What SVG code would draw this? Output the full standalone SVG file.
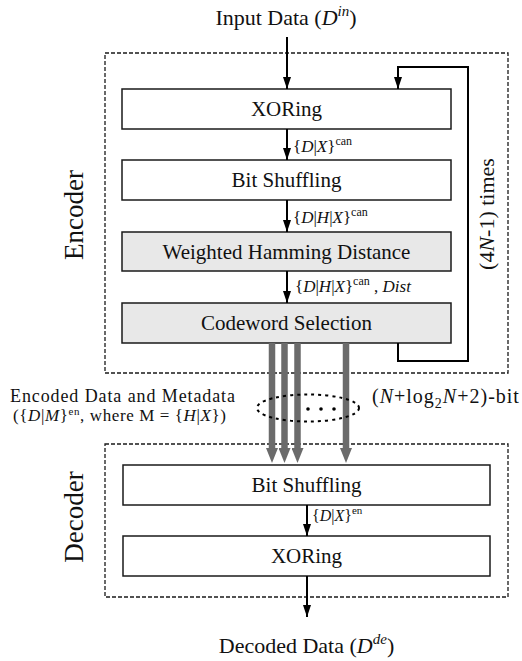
<svg xmlns="http://www.w3.org/2000/svg" width="522" height="661" viewBox="0 0 522 661" font-family="'Liberation Serif', 'Times New Roman', Times, 'DejaVu Serif', serif">
<style>
  text { font-family: 'Liberation Serif', 'Times New Roman', Times, 'DejaVu Serif', serif; fill: #111; }
  .box { fill: #ffffff; stroke: #1a1a1a; stroke-width: 1.5; }
  .gbox { fill: #e8e8e8; stroke: #1a1a1a; stroke-width: 1.5; }
  .dash { fill: none; stroke: #1a1a1a; stroke-width: 1.3; stroke-dasharray: 4 2; }
  .lbl { font-size: 21px; text-anchor: middle; }
  .side { font-size: 27px; text-anchor: middle; }
  .al { font-size: 17px; }
  .it { font-style: italic; }
  .sup { font-size: 12px; }
  .conn { fill: none; stroke: #000; stroke-width: 2; }
  .gray { fill: none; stroke: #6b6b6b; stroke-width: 6.5; }
</style>
<defs>
  <marker id="ah" viewBox="0 0 12 8" refX="12" refY="4" markerWidth="12" markerHeight="8" markerUnits="userSpaceOnUse" orient="auto">
    <path d="M0,0 L12,4 L0,8 z" fill="#000"/>
  </marker>
  <marker id="gh" viewBox="0 0 15 12" refX="0" refY="6" markerWidth="15" markerHeight="12" markerUnits="userSpaceOnUse" orient="auto">
    <path d="M0,0 L15,6 L0,12 z" fill="#6b6b6b"/>
  </marker>
</defs>

<g id="encoder">
  <rect class="dash" x="105" y="53" width="403" height="320"/>
  <text class="side" transform="translate(83,215) rotate(-90)">Encoder</text>
</g>
<g id="decoder">
  <rect class="dash" x="105" y="444" width="403" height="153"/>
  <text class="side" transform="translate(83,517) rotate(-90)">Decoder</text>
</g>

<g id="enc-xoring">
  <rect class="box" x="122" y="89" width="329" height="40"/>
  <text class="lbl" x="286.5" y="116">XORing</text>
</g>
<g id="enc-shuffle">
  <rect class="box" x="122" y="160" width="329" height="40"/>
  <text class="lbl" x="286.5" y="187">Bit Shuffling</text>
</g>
<g id="enc-whd">
  <rect class="gbox" x="122" y="232" width="329" height="39"/>
  <text class="lbl" x="286.5" y="259">Weighted Hamming Distance</text>
</g>
<g id="enc-codeword">
  <rect class="gbox" x="122" y="303" width="329" height="40"/>
  <text class="lbl" x="286.5" y="330">Codeword Selection</text>
</g>

<g id="dec-shuffle">
  <rect class="box" x="123" y="465" width="367" height="40"/>
  <text class="lbl" x="306.5" y="492">Bit Shuffling</text>
</g>
<g id="dec-xoring">
  <rect class="box" x="123" y="536" width="367" height="40"/>
  <text class="lbl" x="306.5" y="563">XORing</text>
</g>

<g id="input-label">
  <text x="286" y="25" style="font-size:22px" text-anchor="middle">Input Data (<tspan class="it">D</tspan><tspan class="it" style="font-size:15px" dy="-9">in</tspan><tspan dy="9">)</tspan></text>
</g>
<g id="output-label">
  <text x="306.5" y="653" style="font-size:22px" text-anchor="middle">Decoded Data (<tspan class="it">D</tspan><tspan class="it" style="font-size:15px" dy="-9">de</tspan><tspan dy="9">)</tspan></text>
</g>

<g id="bus-label">
  <text x="10" y="402" style="font-size:18px; letter-spacing:0.9px">Encoded Data and Metadata</text>
  <text x="13" y="421" style="font-size:17px; letter-spacing:0.6px">({<tspan class="it">D</tspan>|<tspan class="it">M</tspan>}<tspan class="sup" dy="-6" style="font-size:11px">en</tspan><tspan dy="6">, where M = {</tspan><tspan class="it">H</tspan>|<tspan class="it">X</tspan>})</text>
  <text x="372" y="403" style="font-size:20px; letter-spacing:1px">(<tspan class="it">N</tspan>+log<tspan style="font-size:14px" dy="5">2</tspan><tspan class="it" dy="-5">N</tspan>+2)-bit</text>
</g>

<g id="connectors">
  <line class="conn" x1="287" y1="37" x2="287" y2="89" marker-end="url(#ah)"/>
  <line class="conn" x1="287" y1="129" x2="287" y2="160" marker-end="url(#ah)"/>
  <line class="conn" x1="287" y1="200" x2="287" y2="232" marker-end="url(#ah)"/>
  <line class="conn" x1="287" y1="271" x2="287" y2="303" marker-end="url(#ah)"/>
  <path class="conn" d="M398,343 V361 H468 V67 H398 V89" marker-end="url(#ah)"/>
  <line class="conn" x1="307" y1="505" x2="307" y2="536" marker-end="url(#ah)"/>
  <line class="conn" x1="307" y1="576" x2="307" y2="617" marker-end="url(#ah)"/>

  <line class="gray" x1="272" y1="343" x2="272" y2="448" marker-end="url(#gh)"/>
  <line class="gray" x1="284.5" y1="343" x2="284.5" y2="448" marker-end="url(#gh)"/>
  <line class="gray" x1="297.5" y1="343" x2="297.5" y2="448" marker-end="url(#gh)"/>
  <line class="gray" x1="346" y1="343" x2="346" y2="448" marker-end="url(#gh)"/>

  <ellipse cx="308" cy="408" rx="51" ry="13.5" fill="none" stroke="#000" stroke-width="2" stroke-dasharray="3 4"/>
  <circle cx="308" cy="409" r="1.8" fill="#000"/>
  <circle cx="321" cy="409" r="1.8" fill="#000"/>
  <circle cx="334" cy="409" r="1.8" fill="#000"/>

  <text class="al" x="293" y="152">{<tspan class="it">D</tspan>|<tspan class="it">X</tspan>}<tspan class="sup" dy="-7">can</tspan></text>
  <text class="al" x="293" y="223">{<tspan class="it">D</tspan>|<tspan class="it">H</tspan>|<tspan class="it">X</tspan>}<tspan class="sup" dy="-7">can</tspan></text>
  <text class="al" x="295" y="292">{<tspan class="it">D</tspan>|<tspan class="it">H</tspan>|<tspan class="it">X</tspan>}<tspan class="sup" dy="-7">can</tspan><tspan dy="7"> , </tspan><tspan class="it">Dist</tspan></text>
  <text class="al" x="312" y="521" style="font-size:16px">{<tspan class="it">D</tspan>|<tspan class="it">X</tspan>}<tspan class="sup" dy="-7" style="font-size:11px">en</tspan></text>
  <text transform="translate(494,214) rotate(-90)" style="font-size:22px" text-anchor="middle">(4<tspan class="it">N</tspan>-1) times</text>
</g>
</svg>
